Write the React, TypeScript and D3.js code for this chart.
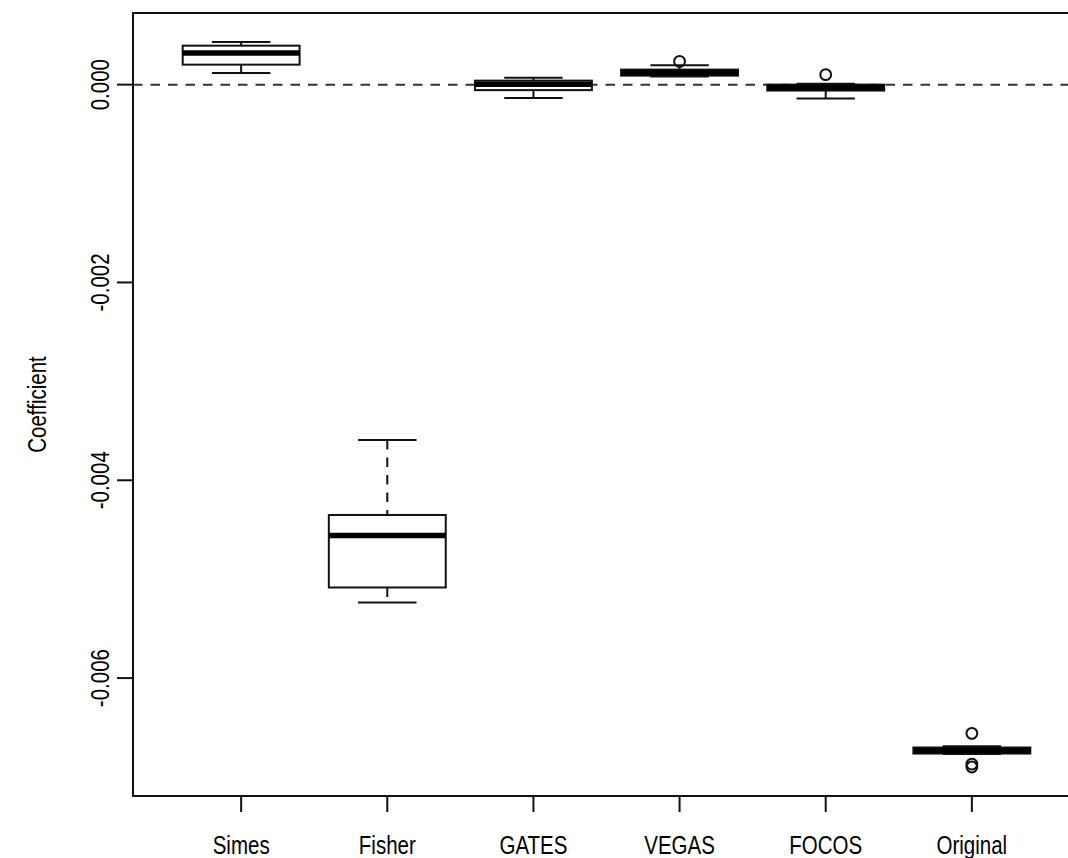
import React from "react";
import * as d3 from "d3";

const categories = ["Simes", "Fisher", "GATES", "VEGAS", "FOCOS", "Original"];
const whiskerLow = [0.000118, -0.005235, -0.000134, 0.000081, -0.000141, -0.006768];
const q1 = [0.000202, -0.005084, -0.0000556, 0.000091, -0.00006, -0.006763];
const median = [0.00032, -0.004559, 0.000005, 0.000121, -0.00003, -0.006732];
const q3 = [0.000394, -0.004351, 0.0000404, 0.000152, 0.0, -0.006702];
const whiskerHigh = [0.000431, -0.003593, 0.0000707, 0.000195, 0.00001, -0.00669];
const outliers: number[][] = [[], [], [], [0.000235], [0.000101], [-0.006559, -0.006869, -0.006899]];
const yTicks = [0, -0.002, -0.004, -0.006];
const yLabel = "Coefficient";

const W = 1068;
const H = 858;
const left = 133;
const right = 1080;
const top = 13;
const bottom = 796;
const font = "'Liberation Sans', Arial, Helvetica, sans-serif";
const fs = 25;
const sx = 0.82;
const dash = "9.5,8";

export default function App() {
  const all = [...whiskerLow, ...whiskerHigh, ...outliers.flat()];
  const lo = d3.min(all) as number;
  const hi = d3.max(all) as number;
  const ext = (hi - lo) * 0.04;
  const y = d3.scaleLinear().domain([lo - ext, hi + ext]).range([bottom, top]);
  const n = categories.length;
  const x = d3.scaleLinear().domain([0.5 - n * 0.04, n + 0.5 + n * 0.04]).range([left, right]);
  const boxW = x(1.8) - x(1);
  const capW = boxW / 2;

  return (
    <svg width={W} height={H} style={{ position: "absolute", left: 0, top: 0, background: "#fff" }}>
      <rect x={0} y={0} width={W} height={H} fill="#fff" />
      <line x1={left} x2={right} y1={y(0)} y2={y(0)} stroke="#333" strokeWidth={2} strokeDasharray={dash} />
      {categories.map((c, i) => {
        const cx = x(i + 1);
        return (
          <g key={c}>
            <line x1={cx} x2={cx} y1={y(whiskerHigh[i])} y2={y(q3[i])} stroke="#111" strokeWidth={2} strokeDasharray={dash} />
            <line x1={cx} x2={cx} y1={y(q1[i])} y2={y(whiskerLow[i])} stroke="#111" strokeWidth={2} strokeDasharray={dash} />
            <line x1={cx - capW / 2} x2={cx + capW / 2} y1={y(whiskerHigh[i])} y2={y(whiskerHigh[i])} stroke="#111" strokeWidth={2} />
            <line x1={cx - capW / 2} x2={cx + capW / 2} y1={y(whiskerLow[i])} y2={y(whiskerLow[i])} stroke="#111" strokeWidth={2} />
            <rect x={cx - boxW / 2} y={y(q3[i])} width={boxW} height={y(q1[i]) - y(q3[i])} fill="#fff" stroke="#111" strokeWidth={2} />
            <line x1={cx - boxW / 2} x2={cx + boxW / 2} y1={y(median[i])} y2={y(median[i])} stroke="#000" strokeWidth={5.5} />
            {outliers[i].map((v, j) => (
              <circle key={j} cx={cx} cy={y(v)} r={5.4} fill="none" stroke="#111" strokeWidth={2} />
            ))}
          </g>
        );
      })}
      <rect x={left} y={top} width={right - left} height={bottom - top} fill="none" stroke="#111" strokeWidth={2} />
      {categories.map((c, i) => (
        <g key={"xt" + c}>
          <line x1={x(i + 1)} x2={x(i + 1)} y1={bottom} y2={bottom + 16} stroke="#111" strokeWidth={2} />
          <text transform={`translate(${x(i + 1)},854) scale(${sx},1)`} textAnchor="middle" fontFamily={font} fontSize={fs} fill="#000">{c}</text>
        </g>
      ))}
      {yTicks.map((t) => (
        <g key={"yt" + t}>
          <line x1={left - 16} x2={left} y1={y(t)} y2={y(t)} stroke="#111" strokeWidth={2} />
          <text transform={`translate(109,${y(t)}) rotate(-90) scale(${sx},1)`} textAnchor="middle" fontFamily={font} fontSize={fs} fill="#000">{t.toFixed(3)}</text>
        </g>
      ))}
      <text transform={`translate(46,${(top + bottom) / 2}) rotate(-90) scale(${sx},1)`} textAnchor="middle" fontFamily={font} fontSize={fs} fill="#000">{yLabel}</text>
    </svg>
  );
}
